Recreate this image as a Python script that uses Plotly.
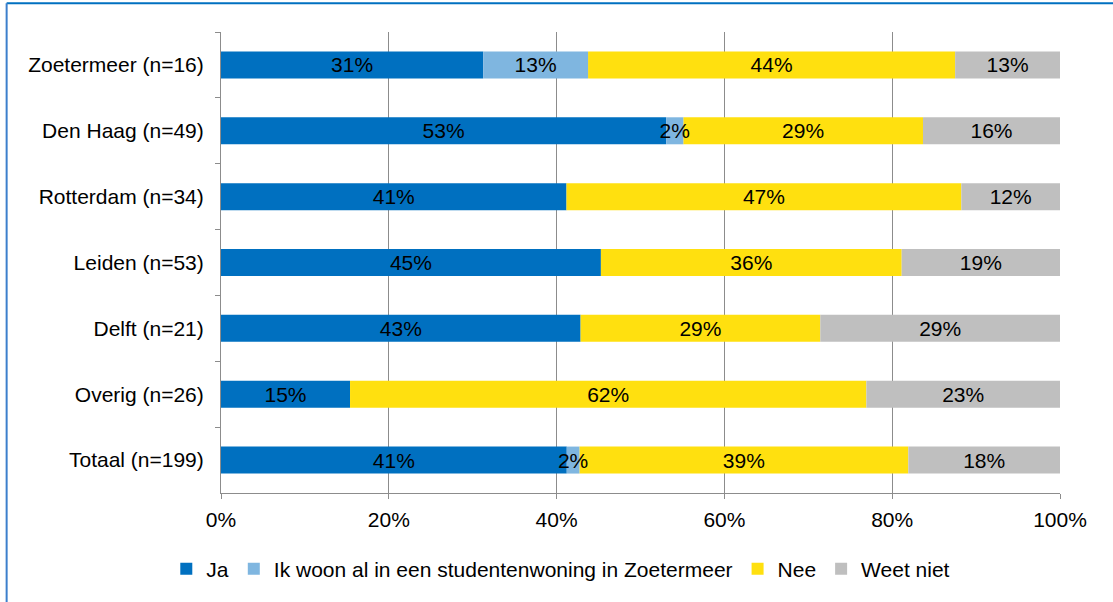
import plotly.graph_objects as go

# Woonvoorkeur per studiestad (percentages per groep)
categories = ['Zoetermeer (n=16)', 'Den Haag (n=49)', 'Rotterdam (n=34)', 'Leiden (n=53)',
              'Delft (n=21)', 'Overig (n=26)', 'Totaal (n=199)']

ja = [31.25, 53.06, 41.18, 45.28, 42.86, 15.38, 41.21]
ik_woon = [12.5, 2.04, 0, 0, 0, 0, 1.51]
nee = [43.75, 28.57, 47.06, 35.85, 28.57, 61.54, 39.20]
weet_niet = [12.5, 16.33, 11.76, 18.87, 28.57, 23.08, 18.09]

ja_labels = ['31%', '53%', '41%', '45%', '43%', '15%', '41%']
ik_woon_labels = ['13%', '2%', '', '', '', '', '2%']
nee_labels = ['44%', '29%', '47%', '36%', '29%', '62%', '39%']
weet_niet_labels = ['13%', '16%', '12%', '19%', '29%', '23%', '18%']

x_ticks = [0, 20, 40, 60, 80, 100]

SERIES = [
    ('Ja', ja, ja_labels, '#0070C0'),
    ('Ik woon al in een studentenwoning in Zoetermeer', ik_woon, ik_woon_labels, '#7FB6E0'),
    ('Nee', nee, nee_labels, '#FFE00F'),
    ('Weet niet', weet_niet, weet_niet_labels, '#BFBFBF'),
]

FONT = 'Liberation Sans, Arial, sans-serif'
AXIS_GREY = '#8C8C8C'

# stack by hand so the thin "Ik woon" segment can be drawn last (its label overflows)
bases = []
running = [0.0] * len(categories)
for _, values, _, _ in SERIES:
    bases.append(list(running))
    running = [r + v for r, v in zip(running, values)]

draw_order = [0, 2, 3, 1]

fig = go.Figure()

for idx in draw_order:
    name, values, labels, color = SERIES[idx]
    fig.add_trace(go.Bar(
        name=name,
        y=categories,
        x=values,
        base=bases[idx],
        orientation='h',
        legendrank=idx + 1,
        marker=dict(color=color, line=dict(width=0)),
        text=labels,
        textposition='inside',
        insidetextanchor='middle',
        textangle=0,
        constraintext='none',
        textfont=dict(color='#000000', size=21, family=FONT),
    ))

fig.update_layout(
    width=1113,
    height=602,
    barmode='overlay',
    bargap=0.59,
    plot_bgcolor='white',
    paper_bgcolor='white',
    font=dict(family=FONT, size=21, color='#000000'),
    margin=dict(l=221, r=53, t=32, b=104),
    uniformtext=dict(mode='show', minsize=21),
    legend=dict(
        orientation='h',
        x=0.405, xanchor='center',
        y=-0.165, yanchor='middle',
        font=dict(size=21, family=FONT),
    ),
    shapes=[
        dict(type='line', xref='paper', yref='paper',
             x0=-0.2555, x1=1.1, y0=1.0622, y1=1.0622,
             line=dict(color='#0070C0', width=2)),
        dict(type='line', xref='paper', yref='paper',
             x0=-0.2555, x1=-0.2555, y0=1.0622, y1=-0.3,
             line=dict(color='#3C7FCC', width=2)),
    ],
)

fig.update_xaxes(
    range=[0, 100],
    tickvals=x_ticks,
    ticktext=[f'{v}%' for v in x_ticks],
    showgrid=True,
    gridcolor=AXIS_GREY,
    gridwidth=1,
    zeroline=False,
    showline=True,
    linecolor=AXIS_GREY,
    linewidth=1,
    ticks='outside',
    ticklen=5,
    tickcolor=AXIS_GREY,
    ticklabelstandoff=3,
)

fig.update_yaxes(
    type='category',
    autorange='reversed',
    tickson='boundaries',
    showgrid=False,
    showline=True,
    linecolor=AXIS_GREY,
    linewidth=1,
    ticks='outside',
    ticklen=5,
    tickcolor=AXIS_GREY,
    ticklabelstandoff=12,
)

# the page adds an 8px body margin; drop it so the figure sits at the window corner
fig.write_html("out.html", config={'displayModeBar': False},
               post_script="document.body.style.margin='0px';")
